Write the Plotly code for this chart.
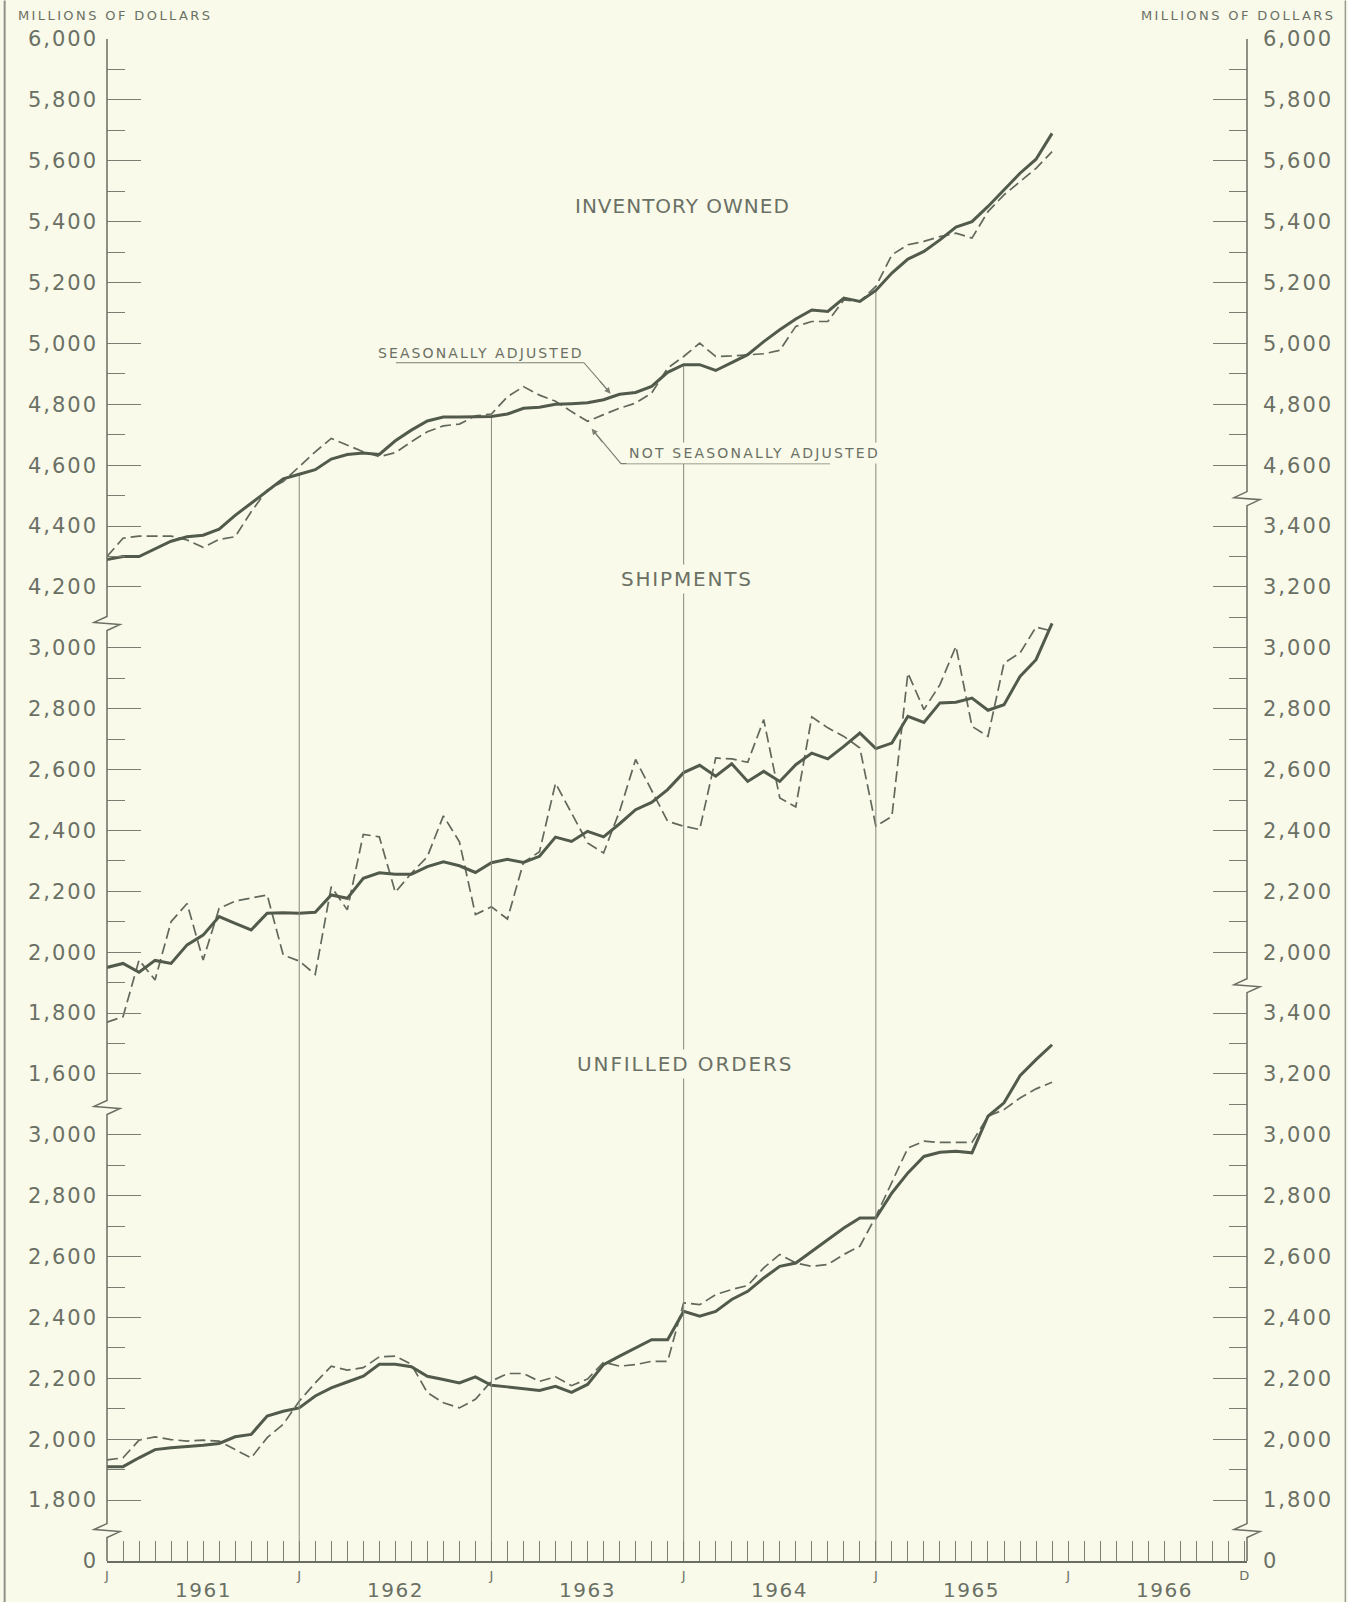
import plotly.graph_objects as go

# ---------------- data (millions of dollars), monthly Jan 1961 - Dec 1965 ----------------
month_index = list(range(60))  # 0 = Jan 1961

inventory_sa = [4290, 4300, 4300, 4325, 4350, 4365, 4370, 4390, 4435, 4475, 4515, 4555,
                4570, 4585, 4620, 4635, 4640, 4635, 4680, 4715, 4745, 4758, 4758, 4760,
                4760, 4768, 4787, 4790, 4800, 4802, 4805, 4815, 4833, 4839, 4859, 4905,
                4930, 4930, 4911, 4937, 4963, 5006, 5045, 5080, 5110, 5105, 5149, 5138,
                5174, 5231, 5277, 5302, 5340, 5382, 5400, 5450, 5504, 5559, 5605, 5690]
inventory_nsa = [4300, 4360, 4367, 4367, 4367, 4354, 4330, 4356, 4365, 4447, 4518, 4546,
                 4595, 4644, 4688, 4666, 4644, 4628, 4641, 4677, 4710, 4729, 4735, 4762,
                 4768, 4825, 4858, 4830, 4810, 4776, 4744, 4766, 4787, 4804, 4837, 4919,
                 4957, 5001, 4957, 4959, 4963, 4966, 4977, 5056, 5072, 5072, 5143, 5138,
                 5187, 5291, 5324, 5335, 5351, 5362, 5346, 5433, 5488, 5532, 5575, 5630]

shipments_sa = [1950, 1963, 1934, 1973, 1963, 2024, 2056, 2117, 2095, 2073, 2128, 2130,
                2128, 2131, 2188, 2177, 2243, 2261, 2256, 2256, 2281, 2297, 2284, 2262,
                2294, 2305, 2295, 2315, 2378, 2364, 2397, 2379, 2422, 2468, 2492, 2534,
                2590, 2614, 2578, 2619, 2561, 2594, 2561, 2616, 2654, 2635, 2676, 2720,
                2669, 2687, 2775, 2755, 2819, 2821, 2835, 2795, 2813, 2906, 2961, 3080]
shipments_nsa = [1770, 1788, 1974, 1909, 2100, 2160, 1974, 2144, 2168, 2177, 2188, 1991,
                 1971, 1927, 2215, 2139, 2387, 2379, 2197, 2259, 2314, 2448, 2363, 2124,
                 2149, 2109, 2295, 2330, 2555, 2457, 2359, 2326, 2463, 2633, 2534, 2430,
                 2414, 2403, 2638, 2635, 2624, 2764, 2507, 2477, 2773, 2737, 2709, 2671,
                 2414, 2446, 2917, 2797, 2879, 3005, 2742, 2709, 2950, 2983, 3068, 3055]

unfilled_sa = [1910, 1910, 1939, 1966, 1972, 1975, 1980, 1986, 2008, 2016, 2076, 2092,
               2103, 2142, 2169, 2188, 2207, 2246, 2246, 2238, 2207, 2196, 2185, 2205,
               2177, 2172, 2166, 2160, 2174, 2154, 2180, 2245, 2273, 2300, 2327, 2327,
               2420, 2404, 2420, 2459, 2486, 2530, 2568, 2579, 2618, 2656, 2694, 2727,
               2727, 2809, 2875, 2929, 2943, 2946, 2941, 3061, 3105, 3194, 3247, 3296]
unfilled_nsa = [1932, 1939, 1997, 2008, 1999, 1994, 1997, 1994, 1966, 1939, 2005, 2049,
                2125, 2185, 2240, 2227, 2235, 2271, 2273, 2246, 2153, 2120, 2103, 2131,
                2191, 2216, 2216, 2190, 2205, 2176, 2198, 2253, 2240, 2245, 2256, 2256,
                2448, 2442, 2475, 2492, 2505, 2563, 2607, 2579, 2568, 2574, 2607, 2634,
                2732, 2847, 2957, 2979, 2975, 2975, 2975, 3061, 3083, 3121, 3151, 3173]

# ---------------- tick labels ----------------
x_tick_vals = list(range(72))
x_tick_text = ["J" if m % 12 == 0 else "" for m in range(72)]
x_tick_text[71] = "D"
year_labels = ["1961", "1962", "1963", "1964", "1965", "1966"]
year_label_pos = [6, 18, 30, 42, 54, 66]
year_line_months = [12, 24, 36, 48]

# left axis (three panels, each on its own value scale)
L_unf_vals = [1600, 1800, 2000, 2200, 2400, 2600, 2800, 3000]
L_unf_text = ["0", "1,800", "2,000", "2,200", "2,400", "2,600", "2,800", "3,000"]
L_unf_minor = [1900, 2100, 2300, 2500, 2700, 2900]
L_shp_vals = [1600, 1800, 2000, 2200, 2400, 2600, 2800, 3000]
L_shp_text = ["1,600", "1,800", "2,000", "2,200", "2,400", "2,600", "2,800", "3,000"]
L_shp_minor = [1700, 1900, 2100, 2300, 2500, 2700, 2900]
L_inv_vals = [4200, 4400, 4600, 4800, 5000, 5200, 5400, 5600, 5800, 6000]
L_inv_text = ["4,200", "4,400", "4,600", "4,800", "5,000", "5,200", "5,400", "5,600", "5,800", "6,000"]
L_inv_minor = [4300, 4500, 4700, 4900, 5100, 5300, 5500, 5700, 5900]
# right axis
R_unf_vals = [1600, 1800, 2000, 2200, 2400, 2600, 2800, 3000, 3200, 3400]
R_unf_text = ["0", "1,800", "2,000", "2,200", "2,400", "2,600", "2,800", "3,000", "3,200", "3,400"]
R_unf_minor = [1900, 2100, 2300, 2500, 2700, 2900, 3100, 3300]
R_shp_vals = [2000, 2200, 2400, 2600, 2800, 3000, 3200, 3400]
R_shp_text = ["2,000", "2,200", "2,400", "2,600", "2,800", "3,000", "3,200", "3,400"]
R_shp_minor = [2100, 2300, 2500, 2700, 2900, 3100, 3300]
R_inv_vals = [4600, 4800, 5000, 5200, 5400, 5600, 5800, 6000]
R_inv_text = ["4,600", "4,800", "5,000", "5,200", "5,400", "5,600", "5,800", "6,000"]
R_inv_minor = [4700, 4900, 5100, 5300, 5500, 5700, 5900]

# value ranges of the three stacked scales (same units per pixel)
RANGE_UNF = [1600, 6600]
RANGE_SHP = [0, 5000]
RANGE_INV = [1000, 6000]

# ---------------- style ----------------
W, H = 1348, 1602
ML, MR, MT, MB = 107.3, 101.3, 38.5, 41.0
PW, PH = W - ML - MR, H - MT - MB
BG = "#f9faea"
SOLID = "#525a4c"
DASHC = "#62685b"
TICK = "#7b7f73"
AXIS = "#6a6e62"
TEXT = "#6b7065"
FONT = "DejaVu Sans"


def px(x):
    return (x - ML) / PW


def py(y):
    return 1 - (y - MT) / PH


def spaced(s, sp):
    return f'<span style="letter-spacing:{sp}px">{s}</span>'


fig = go.Figure()

# vertical January lines, from baseline up to the inventory curve
for m in year_line_months:
    fig.add_trace(go.Scatter(x=[m, m], y=[RANGE_INV[0], inventory_sa[m]], mode="lines",
                             line=dict(color="#85897c", width=1), yaxis="y3",
                             showlegend=False, hoverinfo="skip"))

series = [
    (inventory_nsa, inventory_sa, "y3"),
    (shipments_nsa, shipments_sa, "y2"),
    (unfilled_nsa, unfilled_sa, "y"),
]
for nsa, sa, ax in series:
    fig.add_trace(go.Scatter(x=month_index, y=nsa, mode="lines", yaxis=ax,
                             line=dict(color=DASHC, width=1.7, dash="11px,5px"),
                             showlegend=False))
    fig.add_trace(go.Scatter(x=month_index, y=sa, mode="lines", yaxis=ax,
                             line=dict(color=SOLID, width=3),
                             showlegend=False))

# the right-hand scales carry the same series (invisible) so that their axes are drawn
for sa, ax in [(unfilled_sa, "y4"), (shipments_sa, "y5"), (inventory_sa, "y6")]:
    fig.add_trace(go.Scatter(x=month_index, y=sa, mode="lines", yaxis=ax,
                             line=dict(width=0, color="rgba(0,0,0,0)"),
                             showlegend=False, hoverinfo="skip"))


def yax(rng, vals, text, minor, side, overlay=True):
    d = dict(range=rng, autorange=False, side=side, anchor="x",
             tickmode="array", tickvals=vals,
             ticktext=[spaced(t, 2) for t in text],
             ticks="inside", ticklen=34, tickwidth=1.2, tickcolor=TICK,
             ticklabelstandoff=8 if side == "left" else 15,
             tickfont=dict(family=FONT, size=21, color=TEXT),
             showgrid=False, zeroline=False, showline=False, fixedrange=True,
             minor=dict(tickmode="array", tickvals=minor, ticks="inside",
                        ticklen=18, tickwidth=1.2, tickcolor=TICK, showgrid=False))
    if overlay:
        d["overlaying"] = "y"
    return d


# axis lines with break symbols (drawn as paths in paper space)
def axis_path(X, breaks):
    dx, dy, dm = 13 / PW, 7 / PH, 1 / PH
    pts = [(X, 1.0)]
    for b in sorted(breaks, reverse=True):
        c = b / 25.0
        pts += [(X, c + dy), (X - dx, c + dm), (X + dx, c - dm), (X, c - dy)]
    pts.append((X, 0.0))
    return "M " + " L ".join(f"{a:.5f},{b:.5f}" for a, b in pts)


shapes = [
    dict(type="path", xref="paper", yref="paper", path=axis_path(0.0, [15.4, 7.45, 0.5]),
         line=dict(color=AXIS, width=1.5)),
    dict(type="path", xref="paper", yref="paper", path=axis_path(1.0, [17.45, 9.45, 0.5]),
         line=dict(color=AXIS, width=1.5)),
    # page edges
    dict(type="line", xref="paper", yref="paper", x0=px(5), x1=px(5), y0=py(0), y1=py(H),
         line=dict(color="#8f9286", width=2)),
    dict(type="line", xref="paper", yref="paper", x0=px(1345), x1=px(1345), y0=py(0), y1=py(H),
         line=dict(color="#9a9d91", width=1.5)),
    # callout leaders
    dict(type="path", xref="paper", yref="paper",
         path=f"M {px(396):.5f},{py(362.3):.5f} L {px(584):.5f},{py(362.3):.5f} L {px(608):.5f},{py(390):.5f}",
         line=dict(color=TICK, width=1.1)),
    dict(type="path", xref="paper", yref="paper",
         path=f"M {px(830):.5f},{py(463.3):.5f} L {px(621):.5f},{py(463.3):.5f} L {px(594):.5f},{py(431):.5f}",
         line=dict(color=TICK, width=1.1)),
]

ann = []


def label(s, x, y, size, sp, anchor="center", bg=None):
    a = dict(text=spaced(s, sp), x=px(x), y=py(y), xref="paper", yref="paper",
             xanchor=anchor, yanchor="middle", showarrow=False,
             font=dict(family=FONT, size=size, color=TEXT))
    if bg:
        a.update(bgcolor=bg, borderpad=2)
    ann.append(a)


label("MILLIONS OF DOLLARS", 16, 15.3, 13, 2.4, anchor="left")
label("MILLIONS OF DOLLARS", 1337, 14.8, 13, 2.4, anchor="right")
label("INVENTORY OWNED", 682, 205.5, 20, 1.0)
label("SHIPMENTS", 687, 578.5, 20, 1.8, bg=BG)
label("UNFILLED ORDERS", 685, 1064, 20, 1.9, bg=BG)
label("SEASONALLY ADJUSTED", 481, 353, 14, 2.1)
label("NOT SEASONALLY ADJUSTED", 754, 452.5, 14, 2.2, bg=BG)

# arrow heads
ann.append(dict(x=px(610.6), y=py(393.3), xref="paper", yref="paper", text="",
                showarrow=True, ax=-12, ay=-14, arrowhead=2, arrowsize=1.1,
                arrowwidth=1.1, arrowcolor=TICK, standoff=0))
ann.append(dict(x=px(591.7), y=py(428.3), xref="paper", yref="paper", text="",
                showarrow=True, ax=12, ay=15, arrowhead=2, arrowsize=1.1,
                arrowwidth=1.1, arrowcolor=TICK, standoff=0))

for yr, m in zip(year_labels, year_label_pos):
    ann.append(dict(text=spaced(yr, 1.5), x=m, y=py(1590), xref="x", yref="paper",
                    showarrow=False, xanchor="center", yanchor="middle",
                    font=dict(family=FONT, size=20, color=TEXT)))

fig.update_layout(
    width=W, height=H,
    margin=dict(l=ML, r=MR, t=MT, b=MB, pad=0),
    paper_bgcolor=BG, plot_bgcolor=BG,
    showlegend=False,
    xaxis=dict(range=[0, 71.17], autorange=False, tickmode="array",
               tickvals=x_tick_vals, ticktext=x_tick_text,
               ticks="inside", ticklen=20, tickwidth=1.2, tickcolor=TICK,
               ticklabelstandoff=2,
               tickfont=dict(family=FONT, size=13, color=TEXT),
               showline=True, linecolor=AXIS, linewidth=1.5,
               showgrid=False, zeroline=False, fixedrange=True),
    yaxis=yax(RANGE_UNF, L_unf_vals, L_unf_text, L_unf_minor, "left", overlay=False),
    yaxis2=yax(RANGE_SHP, L_shp_vals, L_shp_text, L_shp_minor, "left"),
    yaxis3=yax(RANGE_INV, L_inv_vals, L_inv_text, L_inv_minor, "left"),
    yaxis4=yax(RANGE_UNF, R_unf_vals, R_unf_text, R_unf_minor, "right"),
    yaxis5=yax(RANGE_SHP, R_shp_vals, R_shp_text, R_shp_minor, "right"),
    yaxis6=yax(RANGE_INV, R_inv_vals, R_inv_text, R_inv_minor, "right"),
    shapes=shapes,
    annotations=ann,
)

fig.write_html("out.html", config={"displayModeBar": False},
               post_script="document.body.style.margin='0px';document.body.style.overflow='hidden';")
